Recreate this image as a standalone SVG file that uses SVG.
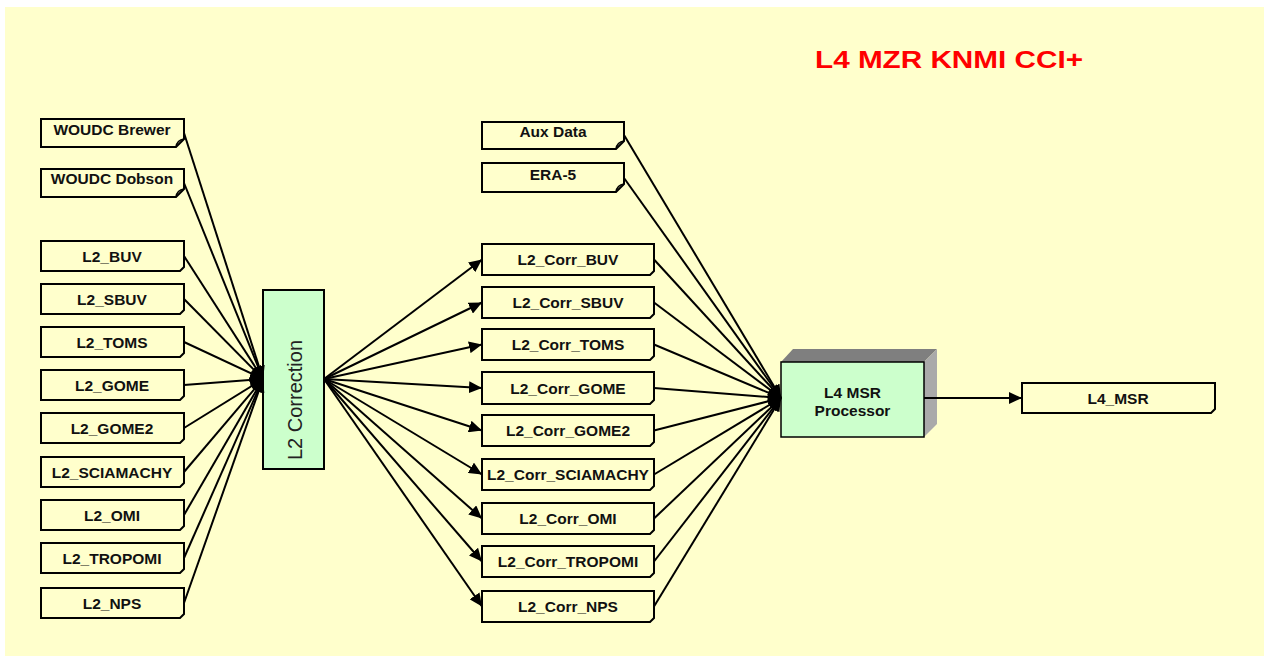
<svg xmlns="http://www.w3.org/2000/svg" width="1264" height="657" viewBox="0 0 1264 657">
<defs>
<marker id="ah" markerUnits="userSpaceOnUse" markerWidth="14" markerHeight="12" refX="13" refY="6" orient="auto">
<path d="M0,0 L13,6 L0,12 Z" fill="#000"/>
</marker>
<style>
.box{fill:#FFFFCC;stroke:#000;stroke-width:2}
.curl{fill:none;stroke:#000;stroke-width:1.5}
.lbl{font-family:"Liberation Sans",Arial,sans-serif;font-weight:bold;font-size:15.5px;fill:#111;text-anchor:middle}
.cn{stroke:#000;stroke-width:2;fill:none}
.ar{stroke:#000;stroke-width:2;fill:none;marker-end:url(#ah)}
</style>
</defs>
<rect x="5" y="7" width="1259" height="649" fill="#FFFFCC"/>
<text x="815" y="68" textLength="268" lengthAdjust="spacingAndGlyphs" font-family="Liberation Sans, Arial, sans-serif" font-weight="bold" font-size="24" fill="#FF0000">L4 MZR KNMI CCI+</text>

<g id="woudc-brewer">
<path class="box" d="M41,119 H184 V139 L176,147 H41 Z"/>
<path class="curl" d="M176,147 Q177,140 184,139"/>
<text class="lbl" x="112" y="135">WOUDC Brewer</text>
</g>
<g id="woudc-dobson">
<path class="box" d="M41,169 H184 V189 L176,197 H41 Z"/>
<path class="curl" d="M176,197 Q177,190 184,189"/>
<text class="lbl" x="112" y="184">WOUDC Dobson</text>
</g>
<g id="l2-buv"><path class="box" d="M41,241 H184 V267 L180,271 H41 Z"/><text class="lbl" x="112" y="262">L2_BUV</text></g>
<g id="l2-sbuv"><path class="box" d="M41,284 H184 V310 L180,314 H41 Z"/><text class="lbl" x="112" y="305">L2_SBUV</text></g>
<g id="l2-toms"><path class="box" d="M41,327 H184 V353 L180,357 H41 Z"/><text class="lbl" x="112" y="348">L2_TOMS</text></g>
<g id="l2-gome"><path class="box" d="M41,370 H184 V396 L180,400 H41 Z"/><text class="lbl" x="112" y="391">L2_GOME</text></g>
<g id="l2-gome2"><path class="box" d="M41,413 H184 V439 L180,443 H41 Z"/><text class="lbl" x="112" y="434">L2_GOME2</text></g>
<g id="l2-sciamachy"><path class="box" d="M41,457 H184 V483 L180,487 H41 Z"/><text class="lbl" x="112" y="478">L2_SCIAMACHY</text></g>
<g id="l2-omi"><path class="box" d="M41,500 H184 V526 L180,530 H41 Z"/><text class="lbl" x="112" y="521">L2_OMI</text></g>
<g id="l2-tropomi"><path class="box" d="M41,543 H184 V569 L180,573 H41 Z"/><text class="lbl" x="112" y="564">L2_TROPOMI</text></g>
<g id="l2-nps"><path class="box" d="M41,588 H184 V614 L180,618 H41 Z"/><text class="lbl" x="112" y="609">L2_NPS</text></g>

<g id="l2-correction">
<rect x="263" y="290" width="61" height="179" fill="#CCFFCC" stroke="#000" stroke-width="2"/>
<text transform="translate(302,400) rotate(-90)" text-anchor="middle" font-family="Liberation Sans, Arial, sans-serif" font-size="20" fill="#222">L2 Correction</text>
</g>

<g id="aux-data">
<path class="box" d="M482,122 H624 V141 L616,149 H482 Z"/>
<path class="curl" d="M616,149 Q617,142 624,141"/>
<text class="lbl" x="553" y="137">Aux Data</text>
</g>
<g id="era5">
<path class="box" d="M482,163 H624 V184 L616,192 H482 Z"/>
<path class="curl" d="M616,192 Q617,185 624,184"/>
<text class="lbl" x="553" y="180">ERA-5</text>
</g>

<g id="l2-corr-buv"><path class="box" d="M482,244 H654 V271 L650,275 H482 Z"/><text class="lbl" x="568" y="265">L2_Corr_BUV</text></g>
<g id="l2-corr-sbuv"><path class="box" d="M482,287 H654 V314 L650,318 H482 Z"/><text class="lbl" x="568" y="308">L2_Corr_SBUV</text></g>
<g id="l2-corr-toms"><path class="box" d="M482,329 H654 V356 L650,360 H482 Z"/><text class="lbl" x="568" y="350">L2_Corr_TOMS</text></g>
<g id="l2-corr-gome"><path class="box" d="M482,372 H654 V400 L650,404 H482 Z"/><text class="lbl" x="568" y="393.5">L2_Corr_GOME</text></g>
<g id="l2-corr-gome2"><path class="box" d="M482,415 H654 V442 L650,446 H482 Z"/><text class="lbl" x="568" y="436">L2_Corr_GOME2</text></g>
<g id="l2-corr-sciamachy"><path class="box" d="M482,459 H654 V486 L650,490 H482 Z"/><text class="lbl" x="568" y="480">L2_Corr_SCIAMACHY</text></g>
<g id="l2-corr-omi"><path class="box" d="M482,503 H654 V530 L650,534 H482 Z"/><text class="lbl" x="568" y="524">L2_Corr_OMI</text></g>
<g id="l2-corr-tropomi"><path class="box" d="M482,546 H654 V573 L650,577 H482 Z"/><text class="lbl" x="568" y="567">L2_Corr_TROPOMI</text></g>
<g id="l2-corr-nps"><path class="box" d="M482,591 H654 V618 L650,622 H482 Z"/><text class="lbl" x="568" y="612">L2_Corr_NPS</text></g>

<g id="l4-msr-processor">
<polygon points="781,362 793,349 937,349 924,362" fill="#7F7F7F"/>
<polygon points="924,362 937,349 937,424 924,437" fill="#AAAAAA"/>
<rect x="781" y="362" width="143" height="75" fill="#CCFFCC" stroke="#000" stroke-width="1.5"/>
<text class="lbl" x="852.5" y="398">L4 MSR</text>
<text class="lbl" x="852.5" y="416">Processor</text>
</g>

<g id="l4-msr">
<path class="box" d="M1022,383 H1215 V409 L1211,413 H1022 Z"/>
<text class="lbl" x="1118" y="404">L4_MSR</text>
</g>

<g id="connectors">
<line class="ar" x1="184" y1="133" x2="263" y2="379"/>
<line class="ar" x1="184" y1="183" x2="263" y2="379"/>
<line class="ar" x1="184" y1="256" x2="263" y2="379"/>
<line class="ar" x1="184" y1="299" x2="263" y2="379"/>
<line class="ar" x1="184" y1="342" x2="263" y2="379"/>
<line class="ar" x1="184" y1="385" x2="263" y2="379"/>
<line class="ar" x1="184" y1="428" x2="263" y2="379"/>
<line class="ar" x1="184" y1="472" x2="263" y2="379"/>
<line class="ar" x1="184" y1="515" x2="263" y2="379"/>
<line class="ar" x1="184" y1="558" x2="263" y2="379"/>
<line class="ar" x1="184" y1="603" x2="263" y2="379"/>
<line class="ar" x1="324" y1="379" x2="482" y2="259.5"/>
<line class="ar" x1="324" y1="379" x2="482" y2="302.5"/>
<line class="ar" x1="324" y1="379" x2="482" y2="344.5"/>
<line class="ar" x1="324" y1="379" x2="482" y2="388"/>
<line class="ar" x1="324" y1="379" x2="482" y2="430.5"/>
<line class="ar" x1="324" y1="379" x2="482" y2="474.5"/>
<line class="ar" x1="324" y1="379" x2="482" y2="518.5"/>
<line class="ar" x1="324" y1="379" x2="482" y2="561.5"/>
<line class="ar" x1="324" y1="379" x2="482" y2="606.5"/>
<line class="ar" x1="624" y1="135" x2="781" y2="398"/>
<line class="ar" x1="624" y1="178" x2="781" y2="398"/>
<line class="ar" x1="654" y1="259.5" x2="781" y2="398"/>
<line class="ar" x1="654" y1="302.5" x2="781" y2="398"/>
<line class="ar" x1="654" y1="344.5" x2="781" y2="398"/>
<line class="ar" x1="654" y1="388" x2="781" y2="398"/>
<line class="ar" x1="654" y1="430.5" x2="781" y2="398"/>
<line class="ar" x1="654" y1="474.5" x2="781" y2="398"/>
<line class="ar" x1="654" y1="518.5" x2="781" y2="398"/>
<line class="ar" x1="654" y1="561.5" x2="781" y2="398"/>
<line class="ar" x1="654" y1="606.5" x2="781" y2="398"/>
<line class="ar" x1="924" y1="398" x2="1022" y2="398"/>
</g>
</svg>
